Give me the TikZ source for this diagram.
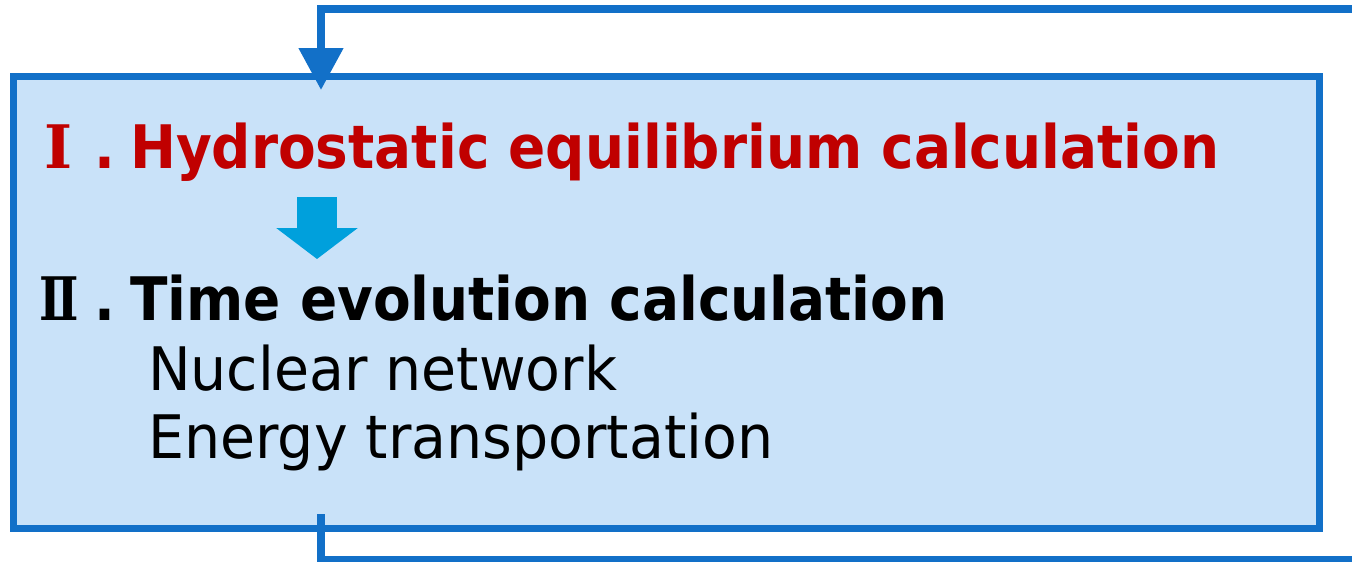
\documentclass[tikz,border=0pt]{standalone}
\usepackage{fontspec}
\usepackage{xcolor}
\usepackage{graphicx}
\usetikzlibrary{arrows.meta}
\setmainfont{DejaVu Sans}[FakeStretch=0.95,BoldFeatures={FakeStretch=0.915}]
\newfontfamily\numfont{DejaVu Serif}

\definecolor{loopblue}{RGB}{18,112,200}
\definecolor{boxfill}{RGB}{201,226,249}
\definecolor{stepcyan}{RGB}{0,160,220}
\definecolor{titlered}{RGB}{192,0,0}

\begin{document}
\begin{tikzpicture}[
  x=1pt,y=-1pt,
  frame/.style={draw=loopblue,fill=boxfill,line width=7pt,inner sep=0pt},
  loopline/.style={draw=loopblue,line width=8pt},
  heading/.style={anchor=base west,inner sep=0pt,font=\fontsize{60}{60}\selectfont\bfseries},
  item/.style={anchor=base west,inner sep=0pt,font=\fontsize{60}{60}\selectfont}
]
  \useasboundingbox (0,0) rectangle (1352,562);
  \node[frame,minimum width=1306pt,minimum height=452pt,anchor=north west] (box) at (10,73) {};
  \node[heading,text=titlered] (one) at (44,168)
    {\makebox[50pt][l]{\numfont\bfseries Ⅰ}\makebox[36pt][l]{.}Hydrostatic equilibrium calculation};
  \node[heading] (two) at (39,320)
    {\makebox[55pt][l]{\scalebox{0.78}[1]{\numfont\bfseries Ⅱ}}\makebox[36pt][l]{.}Time evolution calculation};
  \node[item] (nuc) at (148,390) {Nuclear network};
  \node[item] (ene) at (148,458) {Energy transportation};
  \draw[stepcyan,line width=40pt,-{Triangle[width=80pt,length=31pt]}] (317,197) -- (317,259);
  \coordinate (inR) at (1352,9);
  \coordinate (inTip) at (321,90);
  \coordinate (outTop) at (321,514);
  \coordinate (outR) at (1352,560);
  \draw[loopline,-{Triangle[width=43pt,length=42pt]}] (inR) -- (321,9) -- (inTip);
  \draw[loopline] (outTop) -- (321,560) -- (outR);
\end{tikzpicture}
\end{document}
